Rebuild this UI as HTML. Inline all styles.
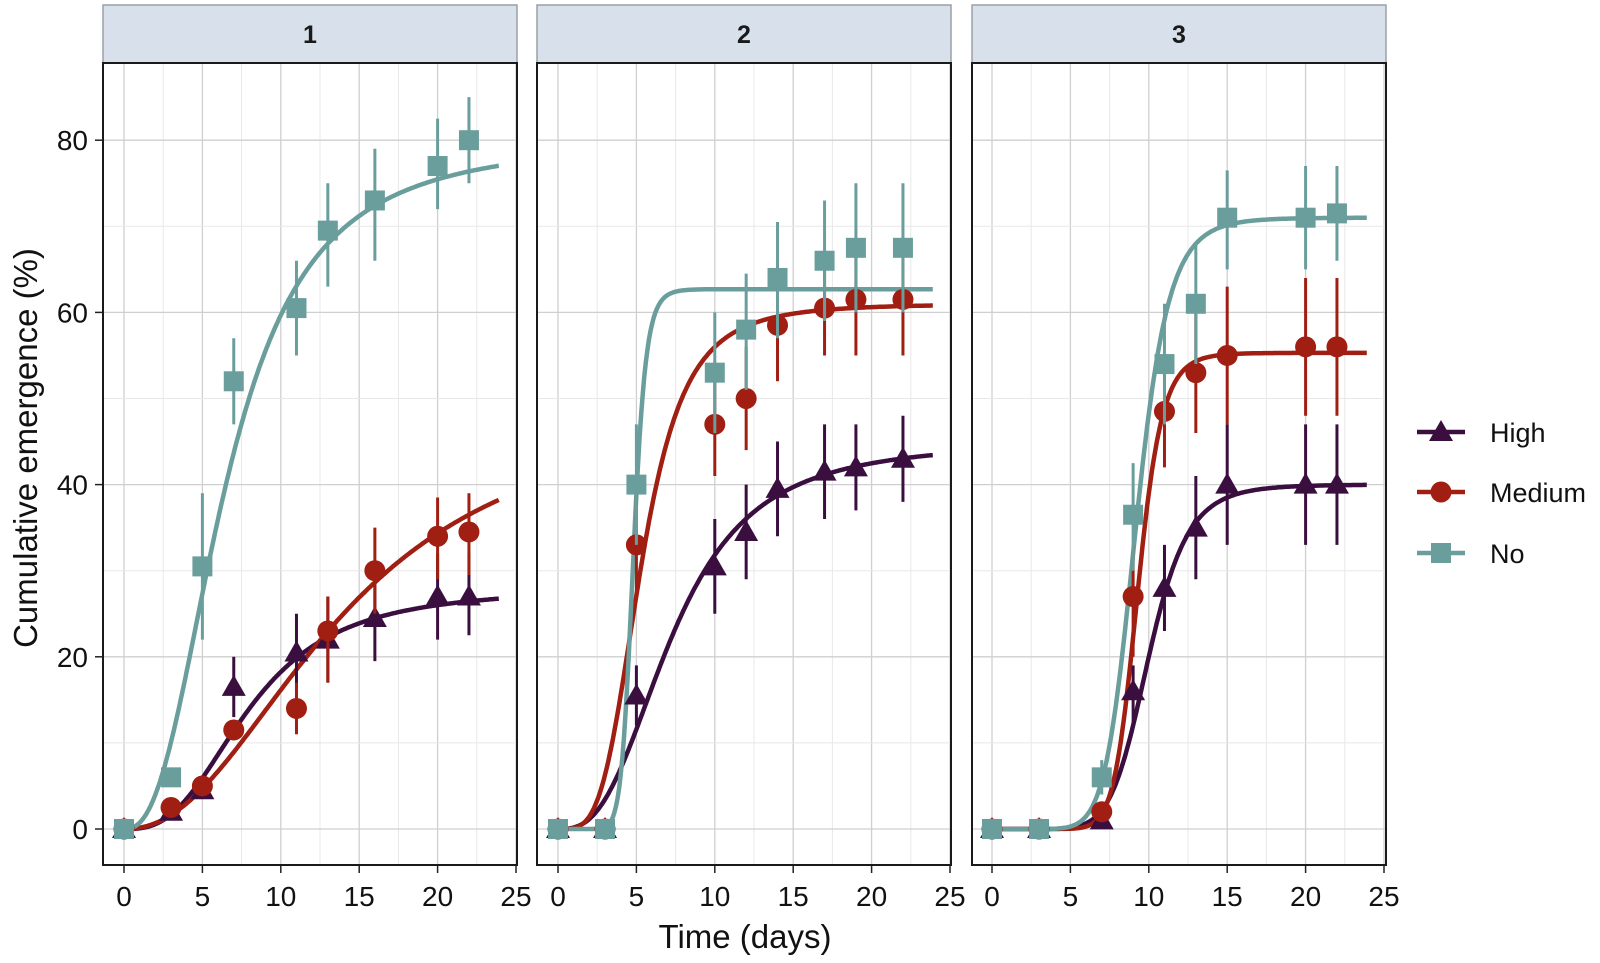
<!DOCTYPE html>
<html><head><meta charset="utf-8"><style>
body{margin:0;background:#fff;}
svg text{font-family:"Liberation Sans",Arial,sans-serif;}
</style></head><body>
<svg id="chart" width="1600" height="958" viewBox="0 0 1600 958" xmlns="http://www.w3.org/2000/svg"></svg>
<script>
const panels = ["1","2","3"];
const seriesNames = ["High","Medium","No"];
const colors = ["#3a0f3f","#a11e12","#6a9e9c"];
const xTicks = [0,5,10,15,20,25];
const yTicks = [0,20,40,60,80];
// times per panel
const times1 = [0,3,5,7,11,13,16,20,22];
const times2 = [0,3,5,10,12,14,17,19,22];
const times3 = [0,3,7,9,11,13,15,20,22];
// panel 1 values
const p1High = [0,2,4.5,16.5,20.5,22,24.5,27,27];
const p1HighLo = [0,2,4.5,13,16,17,19.5,22,22.5];
const p1HighHi = [0,2,4.5,20,25,27,29.5,32,32];
const p1Med = [0,2.5,5,11.5,14,23,30,34,34.5];
const p1MedLo = [0,2.5,5,11.5,11,17,25,29,29.5];
const p1MedHi = [0,2.5,5,11.5,17,27,35,38.5,39];
const p1No = [0,6,30.5,52,60.5,69.5,73,77,80];
const p1NoLo = [0,6,22,47,55,63,66,72,75];
const p1NoHi = [0,6,39,57,66,75,79,82.5,85];
// panel 2
const p2High = [0,0,15.5,30.5,34.5,39.5,41.5,42,43];
const p2HighLo = [0,0,12,25,29,34,36,37,38];
const p2HighHi = [0,0,19,36,40,45,47,47,48];
const p2Med = [0,0,33,47,50,58.5,60.5,61.5,61.5];
const p2MedLo = [0,0,27,41,44,52,55,55,55];
const p2MedHi = [0,0,40,53,56,65,67,68,68];
const p2No = [0,0,40,53,58,64,66,67.5,67.5];
const p2NoLo = [0,0,33,46,51,57,59,60,60];
const p2NoHi = [0,0,47,60,64.5,70.5,73,75,75];
// panel 3
const p3High = [0,0,1,16,28,35,40,40,40];
const p3HighLo = [0,0,1,12,23,29,33,33,33];
const p3HighHi = [0,0,1,19,33,41,47,47,47];
const p3Med = [0,0,2,27,48.5,53,55,56,56];
const p3MedLo = [0,0,2,20,42,46,47,48,48];
const p3MedHi = [0,0,2,33,55,60,63,64,64];
const p3No = [0,0,6,36.5,54,61,71,71,71.5];
const p3NoLo = [0,0,4,30,47,54,65,65,66];
const p3NoHi = [0,0,8,42.5,61,68,76.5,77,77];
// fitted log-logistic curve params: asymptote, t50, slope
const fitA = [[28,50,80],[45,61,62.7],[40,55.3,71]];
const fitM = [[8,14,6.5],[7.3,5.3,4.8],[10,9.3,9.2]];
const fitB = [[2.8,2.2,2.5],[2.8,3.8,12],[8,12,9]];

const data = [
 {t:times1, v:[p1High,p1Med,p1No], lo:[p1HighLo,p1MedLo,p1NoLo], hi:[p1HighHi,p1MedHi,p1NoHi]},
 {t:times2, v:[p2High,p2Med,p2No], lo:[p2HighLo,p2MedLo,p2NoLo], hi:[p2HighHi,p2MedHi,p2NoHi]},
 {t:times3, v:[p3High,p3Med,p3No], lo:[p3HighLo,p3MedLo,p3NoLo], hi:[p3HighHi,p3MedHi,p3NoHi]}
];

const NS="http://www.w3.org/2000/svg";
const svg=document.getElementById('chart');
function mk(tag,attrs,parent){const e=document.createElementNS(NS,tag);for(const k in attrs)e.setAttribute(k,attrs[k]);(parent||svg).appendChild(e);return e;}
const panelLeft=[103,537,972], panelW=414, plotTop=63, plotBot=865;
const x0px=[124,558,992], xs=15.68;
function X(p,t){return x0px[p]+t*xs;}
function Y(v){return 829-v*8.61;}
function fit(p,s,t){if(t<=0)return 0;return fitA[p][s]/(1+Math.pow(t/fitM[p][s],-fitB[p][s]));}

function marker(s,cx,cy,g,name){
  let e;
  if(s===0){e=mk('polygon',{points:`${cx},${cy-12} ${cx-12},${cy+9} ${cx+12},${cy+9}`,fill:colors[s]},g);}
  else if(s===1){e=mk('circle',{cx:cx,cy:cy,r:10.5,fill:colors[s]},g);}
  else {e=mk('rect',{x:cx-10,y:cy-10,width:20,height:20,fill:colors[s]},g);}
  
  
}

panels.forEach((lab,p)=>{
  const g=mk('g',{});
  
  
  const L=panelLeft[p], R=L+panelW;
  const strip=mk('rect',{x:L,y:5,width:panelW,height:58,fill:'#d8e0eb',stroke:'#9aa0a6','stroke-width':1.5},g);
  
  
  const st=mk('text',{x:L+panelW/2,y:43,'text-anchor':'middle','font-size':25,'font-weight':'bold',fill:'#1a1a1a'},g);
  st.textContent=lab;
  
  
  for(let t=0; t<=25; t+=2.5){
    const major = (t%5===0);
    mk('line',{x1:X(p,t),x2:X(p,t),y1:plotTop,y2:plotBot,stroke:major?'#cfcfcf':'#e8e8e8','stroke-width':major?1.3:1},g);
  }
  for(let v=0; v<=80; v+=10){
    const major=(v%20===0);
    mk('line',{x1:L,x2:R,y1:Y(v),y2:Y(v),stroke:major?'#cfcfcf':'#e8e8e8','stroke-width':major?1.3:1},g);
  }
  xTicks.forEach(t=>{
    mk('line',{x1:X(p,t),x2:X(p,t),y1:plotBot,y2:plotBot+8,stroke:'#222','stroke-width':1.5},g);
    const tx=mk('text',{x:X(p,t),y:906,'text-anchor':'middle','font-size':28,fill:'#111'},g);
    tx.textContent=t;
    
    
  });
  const d=data[p];
  for(let s=0;s<3;s++){
    let pts=[];
    for(let t=0;t<=24;t+=0.1){pts.push(X(p,t).toFixed(1)+','+Y(fit(p,s,t)).toFixed(1));}
    const c=mk('polyline',{points:pts.join(' '),fill:'none',stroke:colors[s],'stroke-width':4.5,'stroke-linejoin':'round'},g);
    
    
  }
  for(let s=0;s<3;s++){
    d.t.forEach((t,i)=>{
      const eb=mk('line',{x1:X(p,t),x2:X(p,t),y1:Y(d.lo[s][i]),y2:Y(d.hi[s][i]),stroke:colors[s],'stroke-width':3},g);
      
      
      marker(s,X(p,t),Y(d.v[s][i]),g,'point-'+seriesNames[s].toLowerCase());
    });
  }
  const fr=mk('rect',{x:L,y:plotTop,width:panelW,height:plotBot-plotTop,fill:'none',stroke:'#1a1a1a','stroke-width':2},g);
  
  
});
yTicks.forEach(v=>{
  mk('line',{x1:95,x2:103,y1:Y(v),y2:Y(v),stroke:'#222','stroke-width':1.5});
  const t=mk('text',{x:88,y:Y(v)+10,'text-anchor':'end','font-size':28,fill:'#111'});
  t.textContent=v;
  
  
});
const yt=mk('text',{x:0,y:0,transform:'translate(37,448) rotate(-90)','text-anchor':'middle','font-size':33,fill:'#111'});
yt.textContent='Cumulative emergence (%)';


const xt=mk('text',{x:745,y:948,'text-anchor':'middle','font-size':33,fill:'#111'});
xt.textContent='Time (days)';


const legY=[432,492,553];
seriesNames.forEach((n,s)=>{
  const g=mk('g',{});
  
  
  mk('line',{x1:1417,x2:1465,y1:legY[s],y2:legY[s],stroke:colors[s],'stroke-width':4.5},g);
  marker(s,1441,legY[s],g,'legend-marker');
  const t=mk('text',{x:1490,y:legY[s]+10,'font-size':27,fill:'#111'},g);
  t.textContent=n;
  
  
});
</script>
</body></html>
